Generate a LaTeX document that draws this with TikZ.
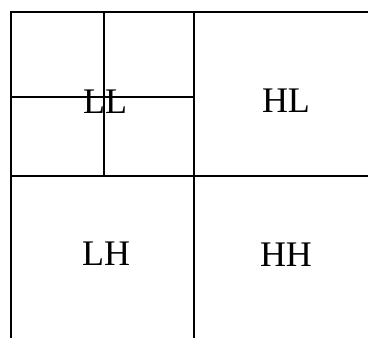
\documentclass[tikz,border=0pt]{standalone}
\usepackage{fontspec}
\setmainfont{Liberation Serif}
\begin{document}
\begin{tikzpicture}[x=1pt, y=-1pt, line width=1.6pt, line cap=butt,
  band/.style={anchor=base, font=\fontsize{36}{40}\selectfont, inner sep=0pt}]
			\useasboundingbox (0,0) rectangle (368,338);
			\def\xl{11}\def\xm{194}\def\xr{368}\def\yt{12}\def\ym{176}\def\yb{338}
			\coordinate (tl) at (\xl,\yt);  \coordinate (tr) at (\xr,\yt);
			\coordinate (bl) at (\xl,\yb);  \coordinate (tm) at (\xm,\yt);
			\coordinate (bm) at (\xm,\yb);  \coordinate (ml) at (\xl,\ym);
			\coordinate (mr) at (\xr,\ym);  \coordinate (mm) at (\xm,\ym);
			\coordinate (qt) at (104,\yt);  \coordinate (qb) at (104,\ym);
			\coordinate (ql) at (\xl,97);   \coordinate (qr) at (\xm,97);
			\draw (bl)--(tl)--(tr);
			\draw (tm)--(bm);
			\draw (ml)--(mr);
			\draw (qt)--(qb);
			\draw (ql)--(qr);
			\node[band] (LL) at (105,113) {LL};
			\node[band] (HL) at (286,112) {HL};
			\node[band] (LH) at (106,265) {LH};
			\node[band] (HH) at (286,266) {HH};
		\end{tikzpicture}
\end{document}
